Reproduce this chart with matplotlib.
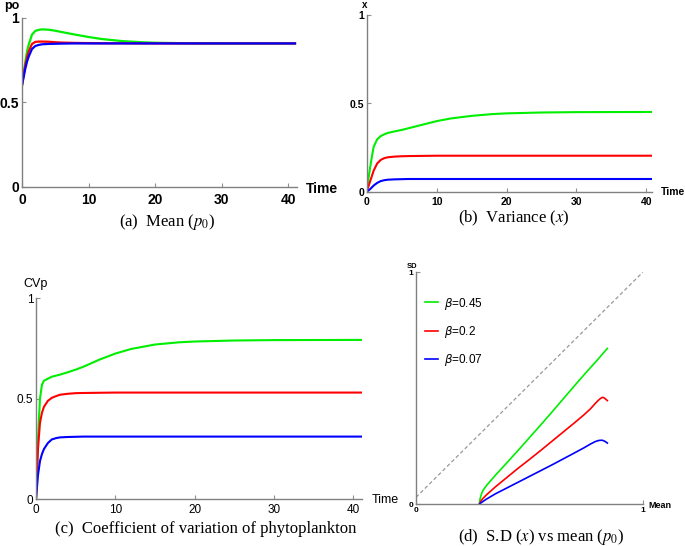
import matplotlib
matplotlib.use("Agg")
import matplotlib.pyplot as plt
from matplotlib.font_manager import FontProperties

# --- data ---
beta_labels = [r"$\beta$=0.45", r"$\beta$=0.2", r"$\beta$=0.07"]
colors = ["#00ee00", "#ff0000", "#0000ff"]

time = [0, 0.25, 0.5, 0.75, 1, 1.5, 2, 2.5, 3, 4, 5, 6, 8, 10, 12, 15, 18, 20, 25, 30, 41]

mean_green = [0.6, 0.67, 0.74, 0.80, 0.84, 0.90, 0.922, 0.928, 0.931, 0.929, 0.923, 0.915,
              0.900, 0.886, 0.874, 0.862, 0.855, 0.852, 0.849, 0.848, 0.848]
mean_red = [0.6, 0.665, 0.72, 0.765, 0.80, 0.845, 0.857, 0.859, 0.859, 0.858, 0.855, 0.853,
            0.851, 0.850, 0.849, 0.849, 0.848, 0.848, 0.848, 0.848, 0.848]
mean_blue = [0.6, 0.65, 0.70, 0.74, 0.77, 0.815, 0.833, 0.839, 0.843, 0.845, 0.846, 0.847,
             0.848, 0.848, 0.848, 0.848, 0.848, 0.848, 0.848, 0.848, 0.848]

var_green = [0, 0.075, 0.14, 0.2, 0.255, 0.297, 0.315, 0.325, 0.333, 0.342, 0.35, 0.36,
             0.38, 0.40, 0.415, 0.43, 0.44, 0.444, 0.449, 0.451, 0.452]
var_red = [0, 0.03, 0.06, 0.09, 0.12, 0.16, 0.18, 0.19, 0.195, 0.199, 0.201, 0.202,
           0.203, 0.204, 0.204, 0.204, 0.204, 0.204, 0.204, 0.204, 0.204]
var_blue = [0, 0.007, 0.015, 0.025, 0.035, 0.05, 0.06, 0.065, 0.068, 0.07, 0.071, 0.072,
            0.072, 0.072, 0.072, 0.072, 0.072, 0.072, 0.072, 0.072, 0.072]

cv_green = [0, 0.3, 0.5, 0.57, 0.59, 0.60, 0.61, 0.615, 0.62, 0.632, 0.645, 0.66,
            0.695, 0.725, 0.748, 0.77, 0.781, 0.785, 0.79, 0.792, 0.793]
cv_red = [0, 0.25, 0.38, 0.43, 0.46, 0.49, 0.505, 0.513, 0.52, 0.525, 0.528, 0.529,
          0.53, 0.531, 0.531, 0.531, 0.531, 0.531, 0.531, 0.531, 0.531]
cv_blue = [0, 0.12, 0.19, 0.225, 0.25, 0.28, 0.298, 0.304, 0.308, 0.31, 0.311, 0.312,
           0.312, 0.312, 0.312, 0.312, 0.312, 0.312, 0.312, 0.312, 0.312]

sd_mean_green = [0.279, 0.283, 0.29, 0.297, 0.31, 0.35, 0.4, 0.45, 0.5, 0.55, 0.6, 0.65,
                 0.7, 0.75, 0.8, 0.844]
sd_green = [0, 0.025, 0.048, 0.062, 0.08, 0.125, 0.178, 0.232, 0.287, 0.342, 0.398, 0.455,
            0.512, 0.568, 0.622, 0.672]
sd_mean = [0.279, 0.285, 0.295, 0.31, 0.35, 0.4, 0.45, 0.5, 0.55, 0.6, 0.65, 0.7, 0.74,
           0.77, 0.79, 0.805, 0.815, 0.822, 0.83, 0.837, 0.844]
sd_red = [0, 0.012, 0.025, 0.04, 0.075, 0.115, 0.155, 0.193, 0.232, 0.272, 0.312, 0.352,
          0.385, 0.412, 0.434, 0.449, 0.457, 0.461, 0.459, 0.453, 0.447]
sd_blue = [0, 0.005, 0.012, 0.022, 0.045, 0.07, 0.095, 0.12, 0.145, 0.17, 0.196, 0.222,
           0.243, 0.26, 0.27, 0.275, 0.276, 0.276, 0.273, 0.269, 0.264]

diag_x = [0, 1]
diag_y = [0.03, 1]

plt.rcParams['font.family'] = ['Liberation Sans', 'DejaVu Sans']
plt.rcParams['mathtext.fontset'] = 'stix'

W, H = 685, 546
fig = plt.figure(figsize=(W / 100, H / 100), dpi=100)


def px_axes(x0, y0, x1, y1):
    # pixel box (left, bottom y, right, top y) -> figure axes
    return fig.add_axes([x0 / W, 1 - y0 / H, (x1 - x0) / W, (y0 - y1) / H])


def ftext(x, y, s, **kw):
    fig.text(x / W, 1 - y / H, s, **kw)


def style(ax, fs, weight, xticks, yticks, ytl, xpad=2):
    for s in ["top", "right"]:
        ax.spines[s].set_visible(False)
    for s in ["left", "bottom"]:
        ax.spines[s].set_color("#808080")
        ax.spines[s].set_linewidth(1.0)
    ax.set_xticks(xticks)
    ax.set_yticks(yticks)
    ax.set_yticklabels(ytl)
    ax.tick_params(direction="in", length=3, color="#909090", labelsize=fs, pad=2)
    ax.tick_params(axis="x", pad=xpad)
    for lab in ax.get_xticklabels() + ax.get_yticklabels():
        lab.set_fontweight(weight)


cap_kw = dict(family="Liberation Serif", fontsize=12, ha="center", va="center")

# (a) mean
ax = px_axes(22, 187, 297, 17.7)
for y, c in zip([mean_green, mean_red, mean_blue], colors):
    ax.plot(time, y, color=c, lw=1.6)
ax.set_xlim(0, 41.3)
ax.set_ylim(0, 1)
style(ax, 10, "bold", [0, 10, 20, 30, 40], [0, 0.5, 1], ["0", "0.5", "1"], xpad=4)
ftext(12, 6, "po", fontsize=9, fontweight="bold", ha="center", va="center")
ftext(306, 189, "Time", fontsize=10, fontweight="bold", ha="left", va="center")
ftext(167, 222, r"(a)  Mean ($p_0$)", **cap_kw)

# (b) variance
ax = px_axes(366.7, 191.7, 652, 15.3)
for y, c in zip([var_green, var_red, var_blue], colors):
    ax.plot(time, y, color=c, lw=1.5)
ax.set_xlim(0, 40.8)
ax.set_ylim(0, 1)
style(ax, 7.5, "bold", [0, 10, 20, 30, 40], [0, 0.5, 1], ["0", "0.5", "1"], xpad=3.5)
ftext(365, 5, "x", fontsize=7, fontweight="bold", ha="center", va="center")
ftext(661, 192, "Time", fontsize=7.5, fontweight="bold", ha="left", va="center")
ftext(514, 218, r"(b)  Variance ($x$)", **cap_kw)

# (c) coefficient of variation
ax = px_axes(36, 499.3, 362, 298.3)
for y, c in zip([cv_green, cv_red, cv_blue], colors):
    ax.plot(time, y, color=c, lw=1.5)
ax.set_xlim(0, 41.1)
ax.set_ylim(0, 1)
style(ax, 8.5, "normal", [0, 10, 20, 30, 40], [0, 0.5, 1], ["0", "0.5", "1"], xpad=3.5)
ftext(36, 284, "CVp", fontsize=9, ha="center", va="center")
ftext(372, 500, "Time", fontsize=9, ha="left", va="center")
ftext(206, 529, "(c)  Coefficient of variation of phytoplankton", **cap_kw)

# (d) SD vs mean
ax = px_axes(416, 504.3, 642.7, 272.3)
ax.plot(diag_x, diag_y, color="#999999", lw=0.9, ls=(0, (3, 2)))
for xs, ys, c, lab in zip([sd_mean_green, sd_mean, sd_mean],
                          [sd_green, sd_red, sd_blue], colors, beta_labels):
    ax.plot(xs, ys, color=c, lw=1.2, label=lab)
ax.set_xlim(0, 1)
ax.set_ylim(0, 1)
style(ax, 6, "bold", [0, 1], [0, 1], ["0", "1"])
ax.legend(loc="upper left", bbox_to_anchor=(0.02, 0.92), frameon=False,
          borderaxespad=0, handlelength=1.1, handletextpad=0.5, labelspacing=1.05,
          prop=FontProperties(family="Liberation Sans", size=8.5,
                              math_fontfamily="dejavusans"))
ftext(412, 266, "SD", fontsize=5.5, fontweight="bold", ha="center", va="center")
ftext(648, 506, "Mean", fontsize=6.5, fontweight="bold", ha="left", va="center")
ftext(541, 537, r"(d)  S.D ($x$) vs mean ($p_0$)", **cap_kw)

fig.savefig("out.png", dpi=100)
